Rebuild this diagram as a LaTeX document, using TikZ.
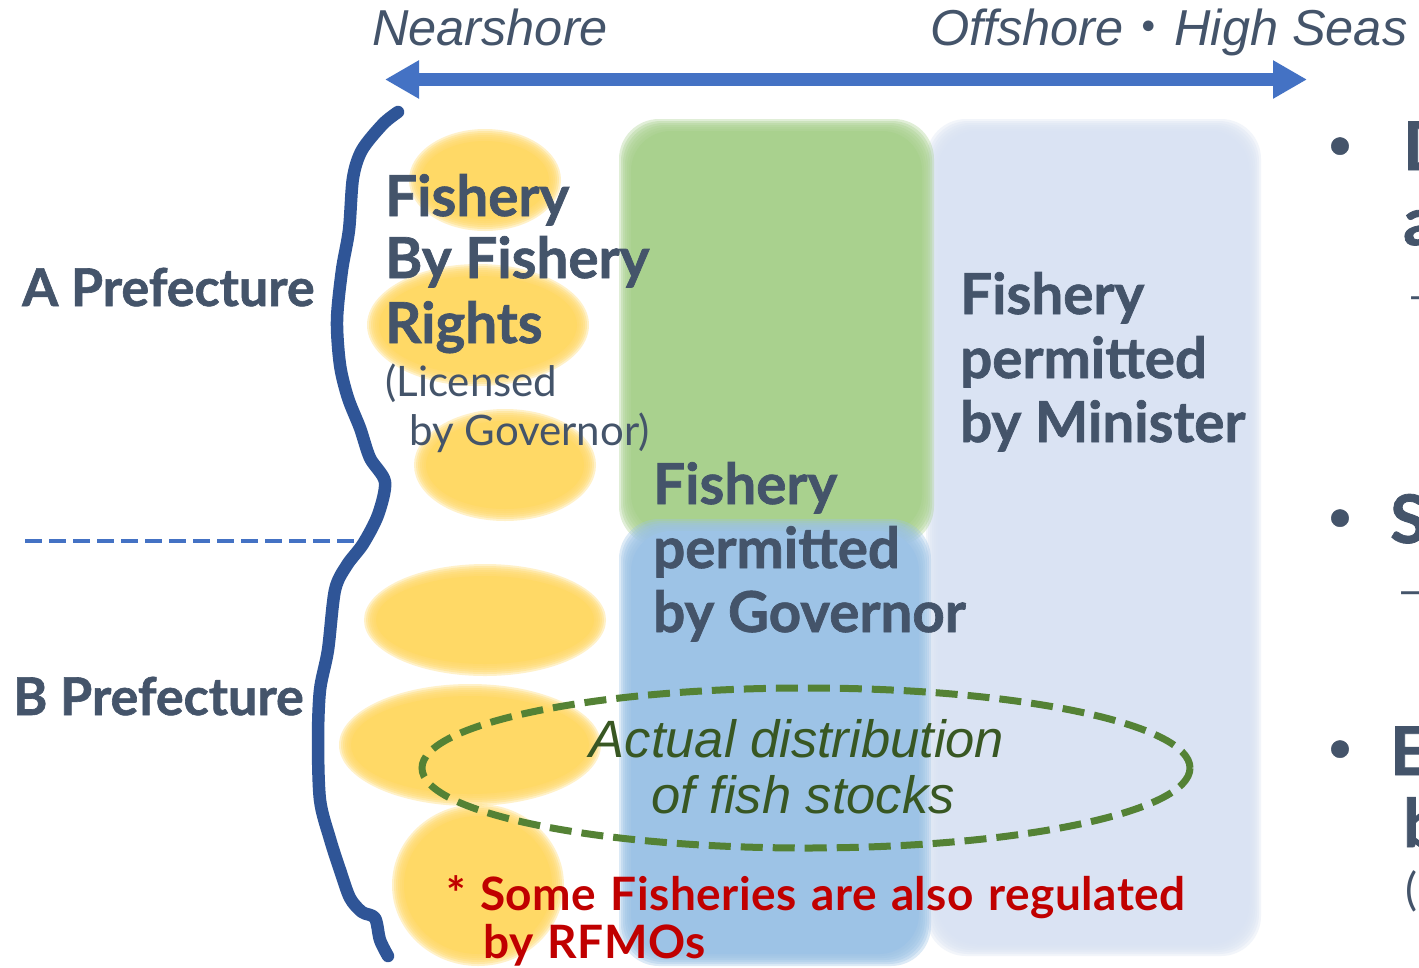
\documentclass[tikz,border=0pt]{standalone}
\usepackage{fontspec}
\setmainfont{Lato}[BoldFeatures={FakeBold=1.2}]
\newfontfamily\arialf{Liberation Sans}
\newfontfamily\notefont{Lato Bold}[WordSpace=1.25, LetterSpace=1.0]
\newfontfamily\cjk{Noto Sans CJK JP}
\usetikzlibrary{arrows.meta}
\definecolor{txt}{HTML}{44546A}
\definecolor{wave}{HTML}{2F5597}
\definecolor{arrowblue}{HTML}{4472C4}
\definecolor{yel}{HTML}{FFD966}
\definecolor{grn}{HTML}{A9D18E}
\definecolor{blu}{HTML}{9DC3E6}
\definecolor{lblu}{HTML}{DAE3F3}
\definecolor{dgrn}{HTML}{548235}
\definecolor{dgrntxt}{HTML}{385723}
\definecolor{redtxt}{HTML}{C00000}
\newcommand{\softellipse}[5]{%
  \foreach \dl in {6,4,2,0,-2,-4}{\fill[#1,opacity=0.35] (#2,#3) ellipse ({#4+\dl} and {#5+\dl});}
  \fill[#1] (#2,#3) ellipse ({#4-6} and {#5-6});}
\newcommand{\softrect}[5]{%
  \foreach \dl in {6,4,2,0,-2,-4}{\fill[#1,opacity=0.35,rounded corners=40pt] ({#2-\dl},{#3-\dl}) rectangle ({#4+\dl},{#5+\dl});}
  \fill[#1,rounded corners=40pt] ({#2+6},{#3+6}) rectangle ({#4-6},{#5-6});}
\begin{document}
\begin{tikzpicture}[x=1pt,y=-1pt,
  lbl/.style={anchor=base west, inner sep=0pt, text=txt},
  bigbold/.style={font=\fontsize{56.5}{64}\selectfont\bfseries},
  prefbold/.style={font=\fontsize{52}{60}\selectfont\bfseries},
  smallreg/.style={font=\fontsize{42}{48}\selectfont},
  topital/.style={font=\arialf\itshape\fontsize{50.5}{56}\selectfont},
  stockital/.style={anchor=base, inner sep=0pt, text=dgrntxt, font=\arialf\itshape\fontsize{52.5}{58}\selectfont},
  rednote/.style={anchor=base west, inner sep=0pt, text=redtxt, font=\notefont\fontsize{46}{50}\selectfont},
  edgebold/.style={lbl, font=\fontsize{67}{70}\selectfont\bfseries},
  edgereg/.style={lbl, font=\fontsize{45}{50}\selectfont},
  bulletdot/.style={anchor=base, inner sep=0pt, text=txt, font=\fontsize{40}{44}\selectfont\bfseries},
  wavyline/.style={draw=wave, line width=12.5pt, line join=round, line cap=round},
  splitline/.style={draw=arrowblue, line width=4pt, dash pattern=on 17pt off 7pt},
  rangearrow/.style={draw=arrowblue, line width=13pt, {Triangle[length=34pt,width=36pt]}-{Triangle[length=34pt,width=36pt]}},
  stockring/.style={draw=dgrn, line width=7pt, dash pattern=on 22pt off 10pt}
]
\useasboundingbox (0,0) rectangle (1419,967);
\fill[white] (0,0) rectangle (1419,967);

% coloured regions
\softrect{lblu}{932}{125}{1255}{950}
\softrect{grn}{625}{125}{928}{540}
\softrect{blu}{625}{525}{925}{960}

% fishery-right areas (yellow)
\softellipse{yel}{485}{180}{70}{45}
\softellipse{yel}{478}{325}{105}{55}
\softellipse{yel}{505}{465}{85}{50}
\softellipse{yel}{485}{620}{115}{50}
\softellipse{yel}{470}{745}{125}{55}
\softellipse{yel}{478}{885}{80}{75}

% range arrow
\coordinate (near) at (385,79.5);
\coordinate (off) at (1307,79.5);
\draw[rangearrow] (near) -- (off);

% coastline
\draw[wavyline] plot[smooth, tension=0.5] coordinates {(398,112) (383,124) (362,150) (353,178) (349,230) (342,270) (337,320) (340,365) (348,398) (360,428) (370,458) (385,482) (378,515) (363,544) (347,565) (335,590) (328,650) (320,690) (318,740) (320,800) (330,839) (340,870) (350,898) (362,912) (375,918) (380,940) (388,956)};

% prefecture border
\coordinate (bl) at (25,541);
\coordinate (br) at (358,541);
\draw[splitline] (bl) -- (br);

% actual distribution ring
\draw[stockring] (806,768) ellipse (384 and 80);

% top labels
\node[lbl, topital] (nearlbl) at (372,45) {Nearshore};
\node[lbl, topital] (offlbl) at (930,45) {Offshore{\cjk ・}High Seas};

% prefectures
\node[lbl, prefbold] (apref) at (22,306) {A Prefecture};
\node[lbl, prefbold] (bpref) at (13,715) {B Prefecture};

% fishery rights
\node[lbl, bigbold] (fr1) at (385,216) {Fishery};
\node[lbl, bigbold] (fr2) at (385,278) {By Fishery};
\node[lbl, bigbold] (fr3) at (385,343) {Rights};
\node[lbl, smallreg] (fr4) at (385,396) {(Licensed};
\node[lbl, smallreg] (fr5) at (409,445) {by Governor)};

% governor
\node[lbl, bigbold] (gv1) at (653,504) {Fishery};
\node[lbl, bigbold] (gv2) at (653,568) {permitted};
\node[lbl, bigbold] (gv3) at (653,632) {by Governor};

% minister
\node[lbl, bigbold] (mn1) at (960,314) {Fishery};
\node[lbl, bigbold] (mn2) at (960,378) {permitted};
\node[lbl, bigbold] (mn3) at (960,442) {by Minister};

% stocks
\node[stockital] (st1) at (797,757) {Actual distribution};
\node[stockital] (st2) at (803,813) {of fish stocks};

% note
\node[rednote] (rn1) at (446,910) {* Some Fisheries are also regulated};
\node[rednote] (rn2) at (483,958) {by RFMOs};

% cut-off bullets at right edge
\begin{scope}
\clip (0,0) rectangle (1419,967);
\node[bulletdot] (b1) at (1340,158) {•};
\node[bulletdot] (b2) at (1340,530) {•};
\node[bulletdot] (b3) at (1340,761) {•};
\node[edgebold] (e1) at (1403,170) {D};
\node[edgebold] (e2) at (1403,245) {a};
\node[edgereg] (e3) at (1407,311) {–};
\node[edgebold] (e4) at (1390,543) {S};
\node[edgereg] (e5) at (1397,606) {–};
\node[edgebold] (e6) at (1390,775) {E};
\node[edgebold] (e7) at (1403,847) {b};
\node[edgereg] (e8) at (1405,905) {(};
\end{scope}
\end{tikzpicture}
\end{document}
